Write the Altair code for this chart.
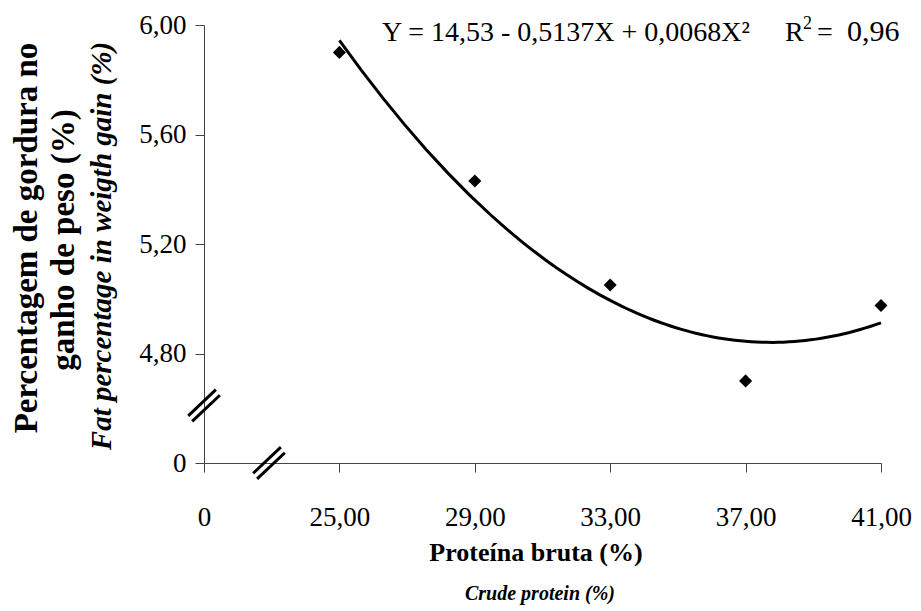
import altair as alt
import pandas as pd

# ---- data ----
protein = [25, 29, 33, 37, 41]
fat = [5.90, 5.43, 5.05, 4.70, 4.975]
# broken axes: position 21 carries the "0" label on x, position 4.4 carries "0" on y
x_tick_values = [21, 25, 29, 33, 37, 41]
y_tick_values = [4.4, 4.8, 5.2, 5.6, 6.0]
break_x = [22.92, 21.0]
break_y = [4.4, 4.61]

equation = "Y = 14,53 - 0,5137X + 0,0068X²"
r2_letter = "R"
r2_sup = "2"
r2_eq = "="
r2_value = "0,96"
y_title_1 = "Percentagem de gordura no"
y_title_2 = "ganho de peso (%)"
y_title_en = "Fat percentage in weigth gain (%)"
x_title = "Proteína bruta (%)"
x_title_en = "Crude protein (%)"

W, H = 677, 438
FONT = "Liberation Serif"

df = pd.DataFrame({"protein": protein, "fat": fat})
breaks = pd.DataFrame({"x": break_x, "y": break_y})

xscale = alt.Scale(domain=[21, 41], nice=False, zero=False)
yscale = alt.Scale(domain=[4.4, 6.0], nice=False, zero=False)

lab_x = "datum.value < 22 ? '0' : replace(format(datum.value, '.2f'), '.', ',')"
lab_y = "datum.value < 4.5 ? '0' : replace(format(datum.value, '.2f'), '.', ',')"

x_axis = alt.Axis(values=x_tick_values, labelExpr=lab_x, title=None, grid=False,
                  tickSize=9, labelFontSize=27, labelFont=FONT, labelColor="black",
                  labelBaseline="alphabetic", labelPadding=53, labelFlush=False,
                  labelOverlap=False, domainColor="#444", tickColor="#444",
                  domainWidth=1, tickWidth=1)
y_axis = alt.Axis(values=y_tick_values, labelExpr=lab_y, title=None, grid=False,
                  tickSize=9, labelFontSize=27, labelFont=FONT, labelColor="black",
                  labelPadding=9, labelFlush=False, labelOverlap=False,
                  domainColor="#444", tickColor="#444", domainWidth=1, tickWidth=1)

points = alt.Chart(df).mark_point(shape="diamond", filled=True, size=170,
                                  color="black", opacity=1).encode(
    x=alt.X("protein:Q", scale=xscale, axis=x_axis),
    y=alt.Y("fat:Q", scale=yscale, axis=y_axis),
)

curve = alt.Chart(df).transform_regression(
    "protein", "fat", method="poly", order=2
).mark_line(color="black", strokeWidth=3).encode(
    x=alt.X("protein:Q", scale=xscale, axis=x_axis),
    y=alt.Y("fat:Q", scale=yscale, axis=y_axis),
)

slash_path = "M-1,0.65L0.75,-1M-0.75,1L1,-0.65"
brk = alt.Chart(breaks).mark_point(shape=slash_path, size=1000, filled=False,
                                   stroke="black", strokeWidth=3, opacity=1).encode(
    x=alt.X("x:Q", scale=xscale, axis=x_axis),
    y=alt.Y("y:Q", scale=yscale, axis=y_axis),
)


def label(text, x, y, size, weight="normal", style="normal", angle=0,
          align="center", baseline="alphabetic"):
    return alt.Chart(pd.DataFrame({"t": [text]})).mark_text(
        font=FONT, fontSize=size, fontWeight=weight, fontStyle=style,
        angle=angle, align=align, baseline=baseline, color="black"
    ).encode(x=alt.value(x), y=alt.value(y), text="t:N")


texts = [
    label(equation, 178, 16, 28, align="left"),
    label(r2_letter, 581, 16, 28, align="left"),
    label(r2_sup, 599, 4, 18, align="left"),
    label(r2_eq, 613, 16, 28, align="left"),
    label(r2_value, 643, 16, 30, align="left"),
    label(y_title_1, -177, 213, 33, weight="bold", angle=270, baseline="middle"),
    label(y_title_2, -140, 215, 33, weight="bold", angle=270, baseline="middle"),
    label(y_title_en, -102, 221, 29, weight="bold", style="italic", angle=270,
          baseline="middle"),
    label(x_title, 332, 536, 26, weight="bold"),
    label(x_title_en, 336, 575, 20, weight="bold", style="italic"),
]

chart = alt.layer(points, curve, brk, *texts).properties(
    width=W, height=H,
    autosize=alt.AutoSizeParams(type="none"),
    padding={"left": 196, "top": 17, "right": 31, "bottom": 148},
    background="white",
).configure_view(stroke=None)

chart.save("out.html", embed_options={"renderer": "svg", "actions": False})
